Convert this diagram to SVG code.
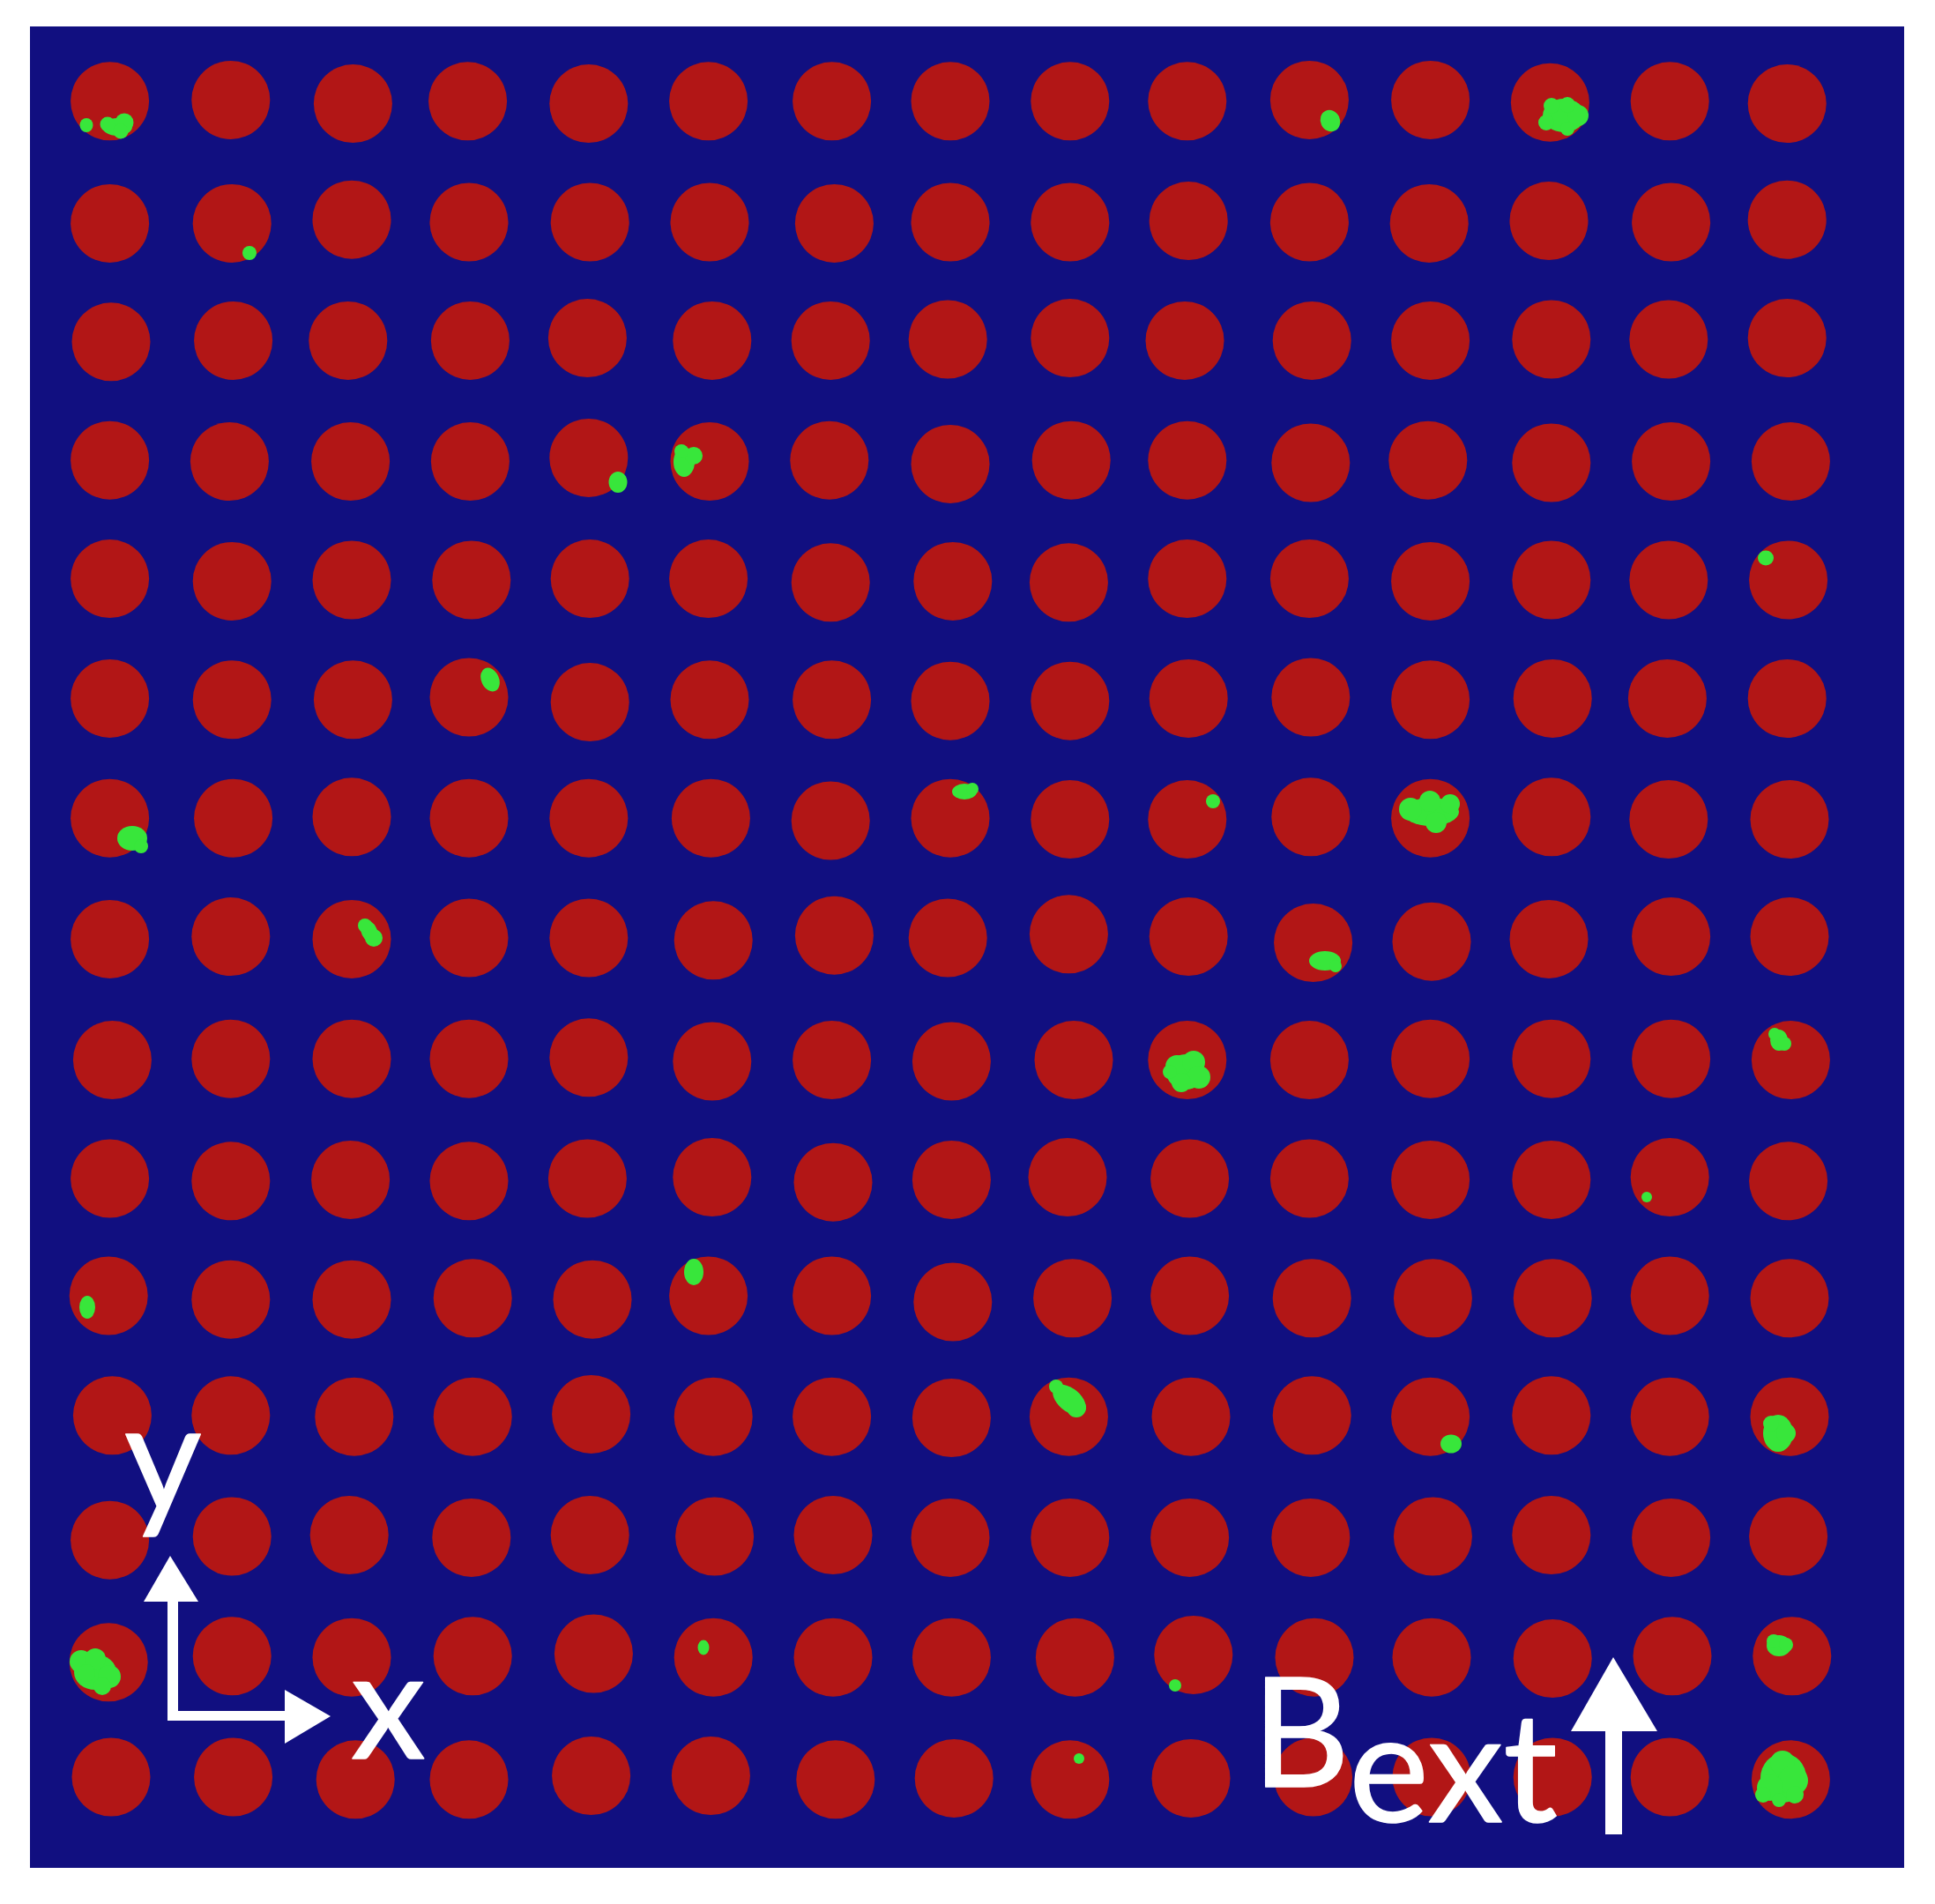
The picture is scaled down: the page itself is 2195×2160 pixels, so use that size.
<svg xmlns="http://www.w3.org/2000/svg" width="2195" height="2160" viewBox="0 0 2195 2160">
<style>
.c{fill:#B21616}
.g{fill:#38E63B}
.w{fill:#FFFFFF}
.t{font-family:Lato,"Open Sans","Liberation Sans",sans-serif;fill:#FFFFFF;stroke:#FFFFFF;stroke-width:1.5;stroke-linejoin:round}
</style>
<rect x="0" y="0" width="2195" height="2160" fill="#FFFFFF"/>
<rect x="34" y="30" width="2126" height="2089" fill="#110F80"/>
<g id="dots" transform="scale(1.4)">
<g id="row1"><circle class="c" cx="89" cy="82" r="31.8"/><circle class="c" cx="187" cy="81" r="31.8"/><circle class="c" cx="286" cy="84" r="31.8"/><circle class="c" cx="379" cy="82" r="31.8"/><circle class="c" cx="477" cy="84" r="31.8"/><circle class="c" cx="574" cy="82" r="31.8"/><circle class="c" cx="674" cy="82" r="31.8"/><circle class="c" cx="770" cy="82" r="31.8"/><circle class="c" cx="867" cy="82" r="31.8"/><circle class="c" cx="962" cy="82" r="31.8"/><circle class="c" cx="1061" cy="81" r="31.8"/><circle class="c" cx="1159" cy="81" r="31.8"/><circle class="c" cx="1256" cy="83" r="31.8"/><circle class="c" cx="1353" cy="82" r="31.8"/><circle class="c" cx="1448" cy="84" r="31.8"/></g>
<g id="row2"><circle class="c" cx="89" cy="181" r="31.8"/><circle class="c" cx="188" cy="181" r="31.8"/><circle class="c" cx="285" cy="178" r="31.8"/><circle class="c" cx="380" cy="180" r="31.8"/><circle class="c" cx="478" cy="180" r="31.8"/><circle class="c" cx="575" cy="180" r="31.8"/><circle class="c" cx="676" cy="181" r="31.8"/><circle class="c" cx="770" cy="180" r="31.8"/><circle class="c" cx="867" cy="180" r="31.8"/><circle class="c" cx="963" cy="179" r="31.8"/><circle class="c" cx="1061" cy="180" r="31.8"/><circle class="c" cx="1158" cy="181" r="31.8"/><circle class="c" cx="1255" cy="179" r="31.8"/><circle class="c" cx="1354" cy="180" r="31.8"/><circle class="c" cx="1448" cy="178" r="31.8"/></g>
<g id="row3"><circle class="c" cx="90" cy="277" r="31.8"/><circle class="c" cx="189" cy="276" r="31.8"/><circle class="c" cx="282" cy="276" r="31.8"/><circle class="c" cx="381" cy="276" r="31.8"/><circle class="c" cx="476" cy="274" r="31.8"/><circle class="c" cx="577" cy="276" r="31.8"/><circle class="c" cx="673" cy="276" r="31.8"/><circle class="c" cx="768" cy="275" r="31.8"/><circle class="c" cx="867" cy="274" r="31.8"/><circle class="c" cx="960" cy="276" r="31.8"/><circle class="c" cx="1063" cy="276" r="31.8"/><circle class="c" cx="1159" cy="276" r="31.8"/><circle class="c" cx="1257" cy="275" r="31.8"/><circle class="c" cx="1352" cy="275" r="31.8"/><circle class="c" cx="1448" cy="274" r="31.8"/></g>
<g id="row4"><circle class="c" cx="89" cy="373" r="31.8"/><circle class="c" cx="186" cy="374" r="31.8"/><circle class="c" cx="284" cy="374" r="31.8"/><circle class="c" cx="381" cy="374" r="31.8"/><circle class="c" cx="477" cy="371" r="31.8"/><circle class="c" cx="575" cy="374" r="31.8"/><circle class="c" cx="672" cy="373" r="31.8"/><circle class="c" cx="770" cy="376" r="31.8"/><circle class="c" cx="868" cy="373" r="31.8"/><circle class="c" cx="962" cy="373" r="31.8"/><circle class="c" cx="1062" cy="375" r="31.8"/><circle class="c" cx="1157" cy="373" r="31.8"/><circle class="c" cx="1257" cy="375" r="31.8"/><circle class="c" cx="1354" cy="374" r="31.8"/><circle class="c" cx="1451" cy="374" r="31.8"/></g>
<g id="row5"><circle class="c" cx="89" cy="469" r="31.8"/><circle class="c" cx="188" cy="471" r="31.8"/><circle class="c" cx="285" cy="470" r="31.8"/><circle class="c" cx="382" cy="470" r="31.8"/><circle class="c" cx="478" cy="469" r="31.8"/><circle class="c" cx="574" cy="469" r="31.8"/><circle class="c" cx="673" cy="472" r="31.8"/><circle class="c" cx="772" cy="471" r="31.8"/><circle class="c" cx="866" cy="472" r="31.8"/><circle class="c" cx="962" cy="469" r="31.8"/><circle class="c" cx="1061" cy="469" r="31.8"/><circle class="c" cx="1159" cy="471" r="31.8"/><circle class="c" cx="1257" cy="470" r="31.8"/><circle class="c" cx="1352" cy="470" r="31.8"/><circle class="c" cx="1449" cy="470" r="31.8"/></g>
<g id="row6"><circle class="c" cx="89" cy="566" r="31.8"/><circle class="c" cx="188" cy="567" r="31.8"/><circle class="c" cx="286" cy="567" r="31.8"/><circle class="c" cx="380" cy="565" r="31.8"/><circle class="c" cx="478" cy="569" r="31.8"/><circle class="c" cx="575" cy="567" r="31.8"/><circle class="c" cx="674" cy="567" r="31.8"/><circle class="c" cx="770" cy="568" r="31.8"/><circle class="c" cx="867" cy="568" r="31.8"/><circle class="c" cx="963" cy="566" r="31.8"/><circle class="c" cx="1062" cy="565" r="31.8"/><circle class="c" cx="1159" cy="567" r="31.8"/><circle class="c" cx="1258" cy="566" r="31.8"/><circle class="c" cx="1351" cy="566" r="31.8"/><circle class="c" cx="1448" cy="566" r="31.8"/></g>
<g id="row7"><circle class="c" cx="89" cy="663" r="31.8"/><circle class="c" cx="189" cy="663" r="31.8"/><circle class="c" cx="285" cy="662" r="31.8"/><circle class="c" cx="380" cy="663" r="31.8"/><circle class="c" cx="477" cy="663" r="31.8"/><circle class="c" cx="576" cy="663" r="31.8"/><circle class="c" cx="673" cy="665" r="31.8"/><circle class="c" cx="770" cy="663" r="31.8"/><circle class="c" cx="867" cy="664" r="31.8"/><circle class="c" cx="962" cy="664" r="31.8"/><circle class="c" cx="1062" cy="662" r="31.8"/><circle class="c" cx="1159" cy="663" r="31.8"/><circle class="c" cx="1257" cy="662" r="31.8"/><circle class="c" cx="1352" cy="664" r="31.8"/><circle class="c" cx="1450" cy="664" r="31.8"/></g>
<g id="row8"><circle class="c" cx="89" cy="761" r="31.8"/><circle class="c" cx="187" cy="759" r="31.8"/><circle class="c" cx="285" cy="761" r="31.8"/><circle class="c" cx="380" cy="760" r="31.8"/><circle class="c" cx="477" cy="760" r="31.8"/><circle class="c" cx="578" cy="762" r="31.8"/><circle class="c" cx="676" cy="758" r="31.8"/><circle class="c" cx="768" cy="760" r="31.8"/><circle class="c" cx="866" cy="757" r="31.8"/><circle class="c" cx="963" cy="759" r="31.8"/><circle class="c" cx="1064" cy="764" r="31.8"/><circle class="c" cx="1160" cy="763" r="31.8"/><circle class="c" cx="1255" cy="761" r="31.8"/><circle class="c" cx="1354" cy="759" r="31.8"/><circle class="c" cx="1450" cy="759" r="31.8"/></g>
<g id="row9"><circle class="c" cx="91" cy="859" r="31.8"/><circle class="c" cx="187" cy="858" r="31.8"/><circle class="c" cx="285" cy="858" r="31.8"/><circle class="c" cx="380" cy="858" r="31.8"/><circle class="c" cx="477" cy="857" r="31.8"/><circle class="c" cx="577" cy="860" r="31.8"/><circle class="c" cx="674" cy="859" r="31.8"/><circle class="c" cx="771" cy="860" r="31.8"/><circle class="c" cx="870" cy="859" r="31.8"/><circle class="c" cx="962" cy="859" r="31.8"/><circle class="c" cx="1061" cy="859" r="31.8"/><circle class="c" cx="1159" cy="858" r="31.8"/><circle class="c" cx="1257" cy="858" r="31.8"/><circle class="c" cx="1354" cy="858" r="31.8"/><circle class="c" cx="1451" cy="859" r="31.8"/></g>
<g id="row10"><circle class="c" cx="89" cy="955" r="31.8"/><circle class="c" cx="187" cy="957" r="31.8"/><circle class="c" cx="284" cy="956" r="31.8"/><circle class="c" cx="380" cy="957" r="31.8"/><circle class="c" cx="476" cy="955" r="31.8"/><circle class="c" cx="577" cy="954" r="31.8"/><circle class="c" cx="675" cy="958" r="31.8"/><circle class="c" cx="771" cy="956" r="31.8"/><circle class="c" cx="865" cy="954" r="31.8"/><circle class="c" cx="964" cy="955" r="31.8"/><circle class="c" cx="1061" cy="955" r="31.8"/><circle class="c" cx="1159" cy="956" r="31.8"/><circle class="c" cx="1257" cy="956" r="31.8"/><circle class="c" cx="1353" cy="954" r="31.8"/><circle class="c" cx="1449" cy="957" r="31.8"/></g>
<g id="row11"><circle class="c" cx="88" cy="1050" r="31.8"/><circle class="c" cx="187" cy="1053" r="31.8"/><circle class="c" cx="285" cy="1053" r="31.8"/><circle class="c" cx="383" cy="1052" r="31.8"/><circle class="c" cx="480" cy="1053" r="31.8"/><circle class="c" cx="574" cy="1050" r="31.8"/><circle class="c" cx="674" cy="1050" r="31.8"/><circle class="c" cx="772" cy="1055" r="31.8"/><circle class="c" cx="869" cy="1052" r="31.8"/><circle class="c" cx="964" cy="1050" r="31.8"/><circle class="c" cx="1063" cy="1052" r="31.8"/><circle class="c" cx="1161" cy="1052" r="31.8"/><circle class="c" cx="1258" cy="1052" r="31.8"/><circle class="c" cx="1353" cy="1050" r="31.8"/><circle class="c" cx="1450" cy="1052" r="31.8"/></g>
<g id="row12"><circle class="c" cx="91" cy="1147" r="31.8"/><circle class="c" cx="187" cy="1147" r="31.8"/><circle class="c" cx="287" cy="1148" r="31.8"/><circle class="c" cx="383" cy="1148" r="31.8"/><circle class="c" cx="479" cy="1146" r="31.8"/><circle class="c" cx="578" cy="1148" r="31.8"/><circle class="c" cx="674" cy="1148" r="31.8"/><circle class="c" cx="771" cy="1149" r="31.8"/><circle class="c" cx="866" cy="1148" r="31.8"/><circle class="c" cx="965" cy="1148" r="31.8"/><circle class="c" cx="1063" cy="1147" r="31.8"/><circle class="c" cx="1159" cy="1148" r="31.8"/><circle class="c" cx="1257" cy="1147" r="31.8"/><circle class="c" cx="1353" cy="1148" r="31.8"/><circle class="c" cx="1450" cy="1148" r="31.8"/></g>
<g id="row13"><circle class="c" cx="89" cy="1248" r="31.8"/><circle class="c" cx="188" cy="1245" r="31.8"/><circle class="c" cx="283" cy="1244" r="31.8"/><circle class="c" cx="382" cy="1246" r="31.8"/><circle class="c" cx="478" cy="1244" r="31.8"/><circle class="c" cx="579" cy="1245" r="31.8"/><circle class="c" cx="675" cy="1244" r="31.8"/><circle class="c" cx="770" cy="1246" r="31.8"/><circle class="c" cx="867" cy="1246" r="31.8"/><circle class="c" cx="964" cy="1246" r="31.8"/><circle class="c" cx="1062" cy="1246" r="31.8"/><circle class="c" cx="1161" cy="1245" r="31.8"/><circle class="c" cx="1257" cy="1244" r="31.8"/><circle class="c" cx="1354" cy="1246" r="31.8"/><circle class="c" cx="1449" cy="1245" r="31.8"/></g>
<g id="row14"><circle class="c" cx="88" cy="1347" r="31.8"/><circle class="c" cx="188" cy="1342" r="31.8"/><circle class="c" cx="285" cy="1343" r="31.8"/><circle class="c" cx="383" cy="1342" r="31.8"/><circle class="c" cx="481" cy="1340" r="31.8"/><circle class="c" cx="578" cy="1343" r="31.8"/><circle class="c" cx="675" cy="1343" r="31.8"/><circle class="c" cx="771" cy="1343" r="31.8"/><circle class="c" cx="871" cy="1343" r="31.8"/><circle class="c" cx="967" cy="1341" r="31.8"/><circle class="c" cx="1065" cy="1343" r="31.8"/><circle class="c" cx="1160" cy="1343" r="31.8"/><circle class="c" cx="1258" cy="1344" r="31.8"/><circle class="c" cx="1355" cy="1342" r="31.8"/><circle class="c" cx="1452" cy="1342" r="31.8"/></g>
<g id="row15"><circle class="c" cx="90" cy="1440" r="31.8"/><circle class="c" cx="189" cy="1440" r="31.8"/><circle class="c" cx="288" cy="1442" r="31.8"/><circle class="c" cx="380" cy="1442" r="31.8"/><circle class="c" cx="479" cy="1439" r="31.8"/><circle class="c" cx="576" cy="1439" r="31.8"/><circle class="c" cx="677" cy="1442" r="31.8"/><circle class="c" cx="773" cy="1441" r="31.8"/><circle class="c" cx="867" cy="1442" r="31.8"/><circle class="c" cx="965" cy="1441" r="31.8"/><circle class="c" cx="1064" cy="1440" r="31.8"/><circle class="c" cx="1160" cy="1440" r="31.8"/><circle class="c" cx="1258" cy="1440" r="31.8"/><circle class="c" cx="1353" cy="1440" r="31.8"/><circle class="c" cx="1451" cy="1442" r="31.8"/></g>
</g>
<g id="blobs" class="g">
<ellipse cx="98" cy="142" rx="7.5" ry="8"/>
<ellipse cx="133" cy="144" rx="17" ry="10"/><circle cx="122" cy="141" r="8.5"/><circle cx="141" cy="139" r="10.5"/><circle cx="137" cy="149" r="8.5"/>
<ellipse cx="1509" cy="137" rx="11" ry="12.5" transform="rotate(-25 1509 137)"/>
<ellipse cx="1774" cy="131" rx="24" ry="19"/><circle cx="1790" cy="131" r="12"/><circle cx="1778" cy="146" r="8"/><circle cx="1754" cy="139" r="9"/><circle cx="1760" cy="120" r="9"/><circle cx="1778" cy="119" r="9"/>
<circle cx="283" cy="287" r="8"/>
<ellipse cx="701" cy="547" rx="10.5" ry="12"/>
<ellipse cx="776" cy="524" rx="12" ry="17"/><circle cx="787" cy="517" r="10"/><circle cx="773" cy="512" r="8"/>
<ellipse cx="2003" cy="633" rx="9" ry="8.5"/>
<ellipse cx="556" cy="771" rx="10" ry="14" transform="rotate(-25 556 771)"/>
<ellipse cx="150" cy="951" rx="17" ry="14"/><circle cx="160" cy="960" r="8"/>
<ellipse cx="1094" cy="898" rx="14" ry="9"/><circle cx="1103" cy="895" r="7"/>
<circle cx="1376" cy="909" r="8"/>
<ellipse cx="1623" cy="921" rx="32" ry="16"/><circle cx="1629" cy="933" r="12"/><circle cx="1645" cy="912" r="11"/><circle cx="1600" cy="918" r="13"/><circle cx="1622" cy="909" r="12"/>
<ellipse cx="419" cy="1057" rx="9" ry="14" transform="rotate(-25 419 1057)"/><circle cx="414" cy="1050" r="8"/><circle cx="424" cy="1064" r="10"/>
<ellipse cx="1503" cy="1090" rx="18" ry="11"/><circle cx="1515" cy="1096" r="7"/>
<ellipse cx="1345" cy="1216" rx="22" ry="20"/><circle cx="1335" cy="1210" r="13"/><circle cx="1354" cy="1205" r="13"/><circle cx="1360" cy="1222" r="13"/><circle cx="1340" cy="1228" r="11"/><circle cx="1327" cy="1216" r="8"/>
<ellipse cx="2018" cy="1180" rx="10" ry="12"/><circle cx="2013" cy="1173" r="7"/><circle cx="2024" cy="1184" r="8"/>
<circle cx="1868" cy="1358" r="6"/>
<ellipse cx="99" cy="1483" rx="9" ry="13"/>
<ellipse cx="787" cy="1443" rx="11" ry="15"/>
<ellipse cx="1213" cy="1588" rx="22" ry="13" transform="rotate(40 1213 1588)"/><circle cx="1221" cy="1597" r="11"/><circle cx="1198" cy="1573" r="8"/>
<ellipse cx="1646" cy="1638" rx="12" ry="10.5"/>
<ellipse cx="2017" cy="1626" rx="17" ry="21"/><circle cx="2026" cy="1626" r="11"/><circle cx="2009" cy="1615" r="9"/>
<ellipse cx="108" cy="1897" rx="24" ry="20"/><circle cx="92" cy="1885" r="13"/><circle cx="108" cy="1882" r="12"/><circle cx="124" cy="1902" r="13"/><circle cx="116" cy="1913" r="10"/><circle cx="98" cy="1898" r="10"/>
<ellipse cx="798" cy="1869" rx="6.5" ry="8.5"/>
<circle cx="1333" cy="1912" r="7"/>
<ellipse cx="2018" cy="1867" rx="14" ry="12"/><circle cx="2012" cy="1862" r="8"/><circle cx="2026" cy="1866" r="8"/>
<circle cx="1224" cy="1995" r="6"/>
<ellipse cx="2023" cy="2017" rx="26" ry="28"/><circle cx="2022" cy="2000" r="14"/><circle cx="2034" cy="2020" r="17"/><circle cx="2008" cy="2028" r="15"/><circle cx="2000" cy="2036" r="9"/><circle cx="2036" cy="2036" r="10"/><circle cx="2018" cy="2042" r="8"/>
</g>
<g id="axes">
<rect class="w" x="190" y="1815" width="12" height="137"/>
<polygon class="w" points="193,1765 225,1817 163,1817"/>
<rect class="w" x="190" y="1941" width="135" height="11"/>
<polygon class="w" points="323,1917 375,1947 323,1978"/>
<text class="t" x="141" y="1714" font-size="170">y</text>
<text class="t" x="398" y="1995" font-size="170">x</text>
</g>
<g id="bext">
<text class="t" x="1420" y="2027" font-size="172">B<tspan dy="40">ext</tspan></text>
<rect class="w" x="1821" y="1962" width="19" height="119"/>
<polygon class="w" points="1830,1880 1880,1964 1782,1964"/>
</g>
</svg>
